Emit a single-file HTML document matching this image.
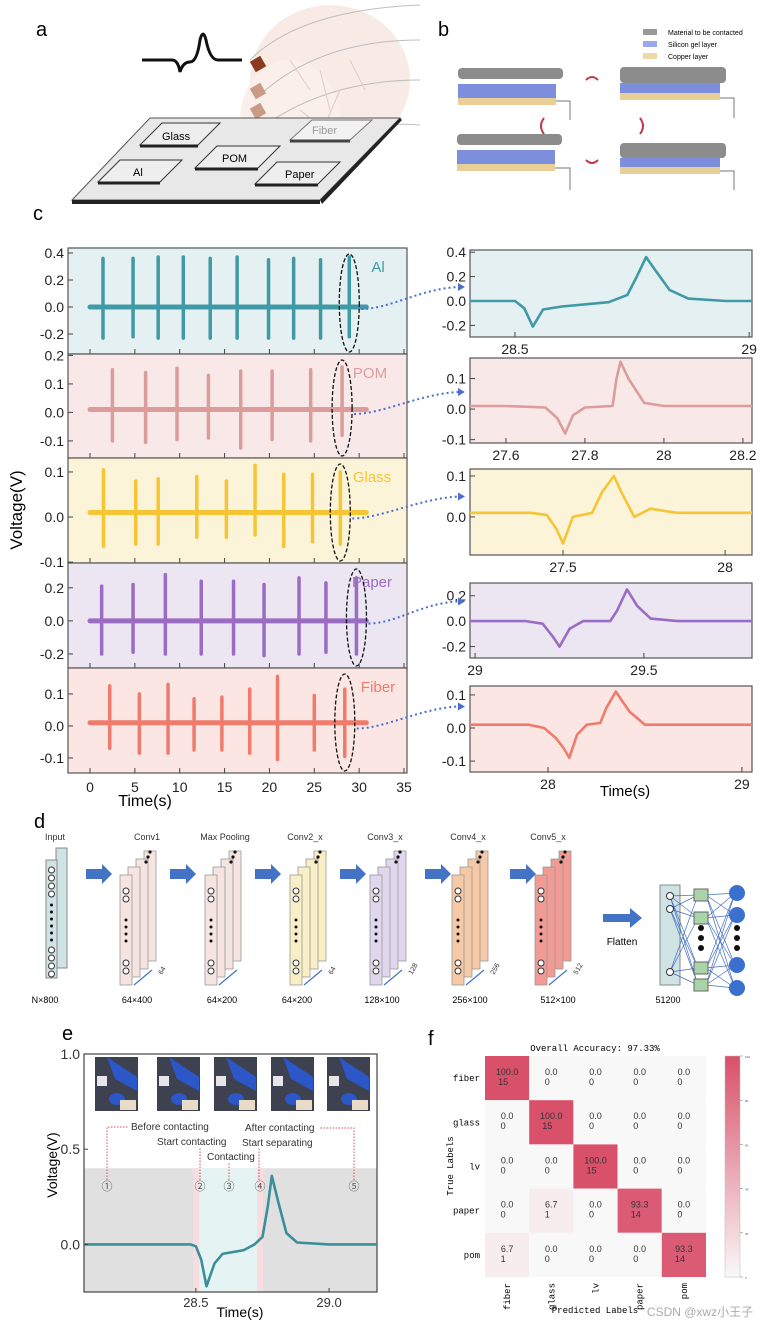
<!DOCTYPE html>
<html><head><meta charset="utf-8">
<style>
html,body{margin:0;padding:0;background:#fff;}
svg{display:block;font-family:"Liberation Sans","Noto Sans CJK SC",sans-serif;}
</style></head>
<body>
<svg id="fig" width="767" height="1325" viewBox="0 0 767 1325" xmlns="http://www.w3.org/2000/svg">
<!-- Panel a -->
<g>
<text x="36" y="36" font-size="20">a</text>
<g opacity="0.55">
<ellipse cx="330" cy="80" rx="80" ry="75" fill="#f4d9cf"/>
<ellipse cx="290" cy="120" rx="50" ry="60" fill="#f7e2da"/>
<path d="M250 60 Q300 10 420 5 M260 95 Q320 40 420 40 M265 125 Q330 80 420 80 M270 150 Q340 120 420 125" stroke="#888" fill="none" stroke-width="1"/>
<path d="M290 60 l20 30 M320 70 l10 40 M340 90 l-15 35 M300 110 l25 20 M350 60 l15 30" stroke="#c9a38f" stroke-width="1" fill="none"/>
</g>
<g>
<rect x="252" y="58" width="12" height="12" fill="#8a3a1f" transform="rotate(-30 258 64)"/>
<rect x="252" y="85" width="12" height="12" fill="#c99a84" transform="rotate(-30 258 91)"/>
<rect x="252" y="105" width="12" height="12" fill="#c99a84" transform="rotate(-30 258 111)"/>
<rect x="252" y="125" width="12" height="12" fill="#c99a84" transform="rotate(-30 258 131)"/>
</g>
<path d="M142 60 L172 60 Q178 60 180 72 Q183 62 190 62 Q197 62 200 40 Q203 28 206 40 Q210 60 218 60 L242 60" stroke="#111" stroke-width="3" fill="none"/>
<g>
<polygon points="72,200 320,200 400,118 150,118" fill="#e8e8e8" stroke="#555" stroke-width="1"/>
<polygon points="72,200 320,200 320,204 72,204" fill="#222"/>
<polygon points="320,200 400,118 402,120 322,204" fill="#222"/>
<polygon points="140,145 198,145 220,123 162,123" fill="#eee" stroke="#333"/><line x1="140" y1="146" x2="198" y2="146" stroke="#222" stroke-width="3"/>
<text x="162" y="140" font-size="11">Glass</text>
<polygon points="195,168 258,168 280,146 217,146" fill="#eee" stroke="#333"/><line x1="195" y1="169" x2="258" y2="169" stroke="#222" stroke-width="3"/>
<text x="222" y="162" font-size="11">POM</text>
<polygon points="98,182 160,182 182,160 120,160" fill="#eee" stroke="#333"/><line x1="98" y1="183" x2="160" y2="183" stroke="#222" stroke-width="3"/>
<text x="133" y="176" font-size="11">Al</text>
<polygon points="255,184 318,184 340,162 277,162" fill="#eee" stroke="#333"/><line x1="255" y1="185" x2="318" y2="185" stroke="#222" stroke-width="3"/>
<text x="285" y="178" font-size="11">Paper</text>
<polygon points="290,140 350,140 372,120 312,120" fill="#f2f2f2" stroke="#777"/><line x1="290" y1="141" x2="350" y2="141" stroke="#444" stroke-width="3"/>
<text x="312" y="134" font-size="11" fill="#999">Fiber</text>
</g>
</g>
<!-- Panel b -->
<g>
<text x="438" y="36" font-size="20">b</text>
<g>
<rect x="643" y="29" width="14" height="6" fill="#999"/><text x="668" y="35" font-size="7">Material to be contacted</text>
<rect x="643" y="41" width="14" height="6" fill="#9aa9ea"/><text x="668" y="47" font-size="7">Silicon gel layer</text>
<rect x="643" y="53" width="14" height="6" fill="#edd8a8"/><text x="668" y="59" font-size="7">Copper layer</text>
</g>
<g>
<rect x="458" y="68" width="105" height="11" rx="4" fill="#8c8c8c"/>
<rect x="458" y="84" width="98" height="14" fill="#7d8fdc"/><rect x="458" y="98" width="98" height="7" fill="#e8cf97"/>
</g>
<g>
<rect x="620" y="67" width="106" height="16" rx="4" fill="#8c8c8c"/>
<rect x="620" y="83" width="100" height="10" fill="#7d8fdc"/><rect x="620" y="93" width="100" height="7" fill="#e8cf97"/>
</g>
<g>
<rect x="457" y="134" width="105" height="11" rx="4" fill="#8c8c8c"/>
<rect x="457" y="150" width="98" height="14" fill="#7d8fdc"/><rect x="457" y="164" width="98" height="7" fill="#e8cf97"/>
</g>
<g>
<rect x="620" y="143" width="106" height="15" rx="4" fill="#8c8c8c"/>
<rect x="620" y="158" width="100" height="9" fill="#7d8fdc"/><rect x="620" y="167" width="100" height="7" fill="#e8cf97"/>
</g>
<g stroke="#777" stroke-width="1" fill="none">
<path d="M556 101 H570 V120 M720 98 H734 V118 M555 168 H570 V190 M720 171 H734 V190"/>
</g>
<g stroke="#c0394f" stroke-width="2" fill="none">
<path d="M586 80 q6 -6 12 0 M544 118 q-6 8 0 16 M640 118 q6 8 0 16 M586 160 q6 6 12 0"/>
</g>
</g>
<text x="33" y="220" font-size="20">c</text>
<g id="panelC"></g>
<!-- Panel d -->
<g id="panelD">
<text x="34" y="828" font-size="20">d</text>
</g>
<g id="panelE">
<text x="62" y="1040" font-size="20">e</text>
</g>
<g id="panelF">
<text x="428" y="1045" font-size="20">f</text>
</g>
</svg>
<script>
// ===== Panel c data =====
const cMaterials = ["Al","POM","Glass","Paper","Fiber"];
const alSpikeT = [1.45,4.8,7.6,10.4,13.4,16.4,19.9,22.7,25.7,28.9];
const alSpikeMax = [0.36,0.36,0.37,0.37,0.36,0.37,0.35,0.36,0.35,0.37];
const alSpikeMin = [-0.23,-0.22,-0.23,-0.23,-0.23,-0.23,-0.23,-0.23,-0.23,-0.22];
const pomSpikeT = [2.5,6.2,9.7,13.2,16.8,20.3,24.6,28.1];
const pomSpikeMax = [0.15,0.14,0.155,0.13,0.145,0.145,0.15,0.16];
const pomSpikeMin = [-0.1,-0.105,-0.095,-0.09,-0.125,-0.095,-0.1,-0.08];
const glassSpikeT = [1.5,5.1,7.6,11.9,15.2,18.4,21.6,24.8,27.9];
const glassSpikeMax = [0.105,0.08,0.085,0.09,0.08,0.115,0.095,0.095,0.1];
const glassSpikeMin = [-0.065,-0.06,-0.06,-0.045,-0.045,-0.04,-0.065,-0.055,-0.06];
const paperSpikeT = [1.3,4.8,8.4,12.4,16.0,19.4,23.3,26.3,29.7];
const paperSpikeMax = [0.21,0.22,0.28,0.24,0.24,0.22,0.26,0.23,0.26];
const paperSpikeMin = [-0.2,-0.19,-0.2,-0.2,-0.2,-0.21,-0.2,-0.19,-0.2];
const fiberSpikeT = [2.2,5.5,8.7,11.6,14.7,17.8,20.9,25.0,28.4];
const fiberSpikeMax = [0.125,0.1,0.13,0.085,0.09,0.115,0.155,0.095,0.115];
const fiberSpikeMin = [-0.07,-0.085,-0.085,-0.075,-0.075,-0.085,-0.105,-0.075,-0.095];
const cBaselines = [0.0,0.01,0.01,0.0,0.01];
const cXTicks = [0,5,10,15,20,25,30,35];
const alYTicks = [-0.2,0.0,0.2,0.4];
const pomYTicks = [-0.1,0.0,0.1,0.2];
const glassYTicks = [-0.1,0.0,0.1];
const paperYTicks = [-0.2,0.0,0.2];
const fiberYTicks = [-0.1,0.0,0.1];
// zoomed signals (time, voltage)
const alZoomT = [28.404,28.5,28.52,28.538,28.56,28.6,28.7,28.74,28.76,28.78,28.8,28.83,28.87,28.95,29.006];
const alZoomV = [0.0,0.0,-0.06,-0.21,-0.07,-0.045,-0.01,0.05,0.2,0.36,0.25,0.09,0.02,0.0,0.0];
const alZoomXTicks = [28.5,29];
const pomZoomT = [27.509,27.6,27.7,27.73,27.75,27.77,27.8,27.87,27.88,27.89,27.91,27.95,28.0,28.223];
const pomZoomV = [0.01,0.01,0.005,-0.03,-0.08,-0.02,0.005,0.01,0.1,0.155,0.1,0.02,0.01,0.01];
const pomZoomXTicks = [27.6,27.8,28,28.2];
const glassZoomT = [27.213,27.4,27.45,27.48,27.5,27.53,27.59,27.62,27.657,27.68,27.72,27.77,27.85,28.083];
const glassZoomV = [0.01,0.01,0.005,-0.03,-0.065,0.0,0.01,0.06,0.1,0.06,0.0,0.02,0.01,0.01];
const glassZoomXTicks = [27.5,28];
const paperZoomT = [28.985,29.15,29.2,29.23,29.25,29.28,29.32,29.4,29.42,29.45,29.48,29.52,29.6,29.82];
const paperZoomV = [0.0,0.0,-0.02,-0.12,-0.2,-0.06,0.0,0.0,0.08,0.25,0.12,0.02,0.0,0.0];
const paperZoomXTicks = [29,29.5];
const fiberZoomT = [27.598,27.9,27.98,28.04,28.08,28.11,28.15,28.2,28.27,28.3,28.35,28.42,28.5,28.6,29.052];
const fiberZoomV = [0.01,0.01,0.0,-0.03,-0.06,-0.09,-0.02,0.01,0.015,0.06,0.11,0.05,0.01,0.01,0.01];
const fiberZoomXTicks = [28,29];
const zoomYTicks = [[-0.2,0.0,0.2,0.4],[-0.1,0.0,0.1],[0.0,0.1],[-0.2,0.0,0.2],[-0.1,0.0,0.1]];

const NS="http://www.w3.org/2000/svg";
function mk(parent,tag,attrs,text){const e=document.createElementNS(NS,tag);for(const k in attrs)e.setAttribute(k,attrs[k]);if(text!==undefined)e.textContent=text;parent.appendChild(e);return e;}
function lin(d0,d1,r0,r1){return v=>r0+(v-d0)*(r1-r0)/(d1-d0);}
function fmt(v){return (Math.abs(v)<1e-9?"0.0":v.toFixed(1));}

const pc=document.getElementById('panelC');
const rowTops=[248,354,458,563,668], rowBots=[354,458,563,668,773];
const rowV=[[-0.348,0.437],[-0.16,0.205],[-0.102,0.131],[-0.285,0.35],[-0.147,0.181]];
const bgCols=["#e4f0f1","#f8e9e8","#fcf4d8","#ebe6f2","#fce6e3"];
const lnCols=["#3f9aa6","#dc9c9c","#f6c535","#9a6cc4","#ef7b6c"];
const spT=[alSpikeT,pomSpikeT,glassSpikeT,paperSpikeT,fiberSpikeT];
const spMax=[alSpikeMax,pomSpikeMax,glassSpikeMax,paperSpikeMax,fiberSpikeMax];
const spMin=[alSpikeMin,pomSpikeMin,glassSpikeMin,paperSpikeMin,fiberSpikeMin];
const yTks=[alYTicks,pomYTicks,glassYTicks,paperYTicks,fiberYTicks];
const xL=68,xR=407;const xs=lin(0,35,90,404);
const zT=[alZoomT,pomZoomT,glassZoomT,paperZoomT,fiberZoomT];
const zV=[alZoomV,pomZoomV,glassZoomV,paperZoomV,fiberZoomV];
const zXT=[alZoomXTicks,pomZoomXTicks,glassZoomXTicks,paperZoomXTicks,fiberZoomXTicks];
const zTops=[250,358,469,583,686], zBots=[337,443,555,658,772];
const zV0=[[-0.295,0.418],[-0.111,0.167],[-0.093,0.117],[-0.29,0.3],[-0.133,0.127]];
const zX0=[[28.404,29.006],[27.509,28.223],[27.213,28.083],[28.985,29.82],[27.598,29.052]];
const zL=470,zR=752;
const labelX=[378,370,372,372,378];

for(let r=0;r<5;r++){
  const g=mk(pc,'g',{});
  
  
  const ys=lin(rowV[r][0],rowV[r][1],rowBots[r],rowTops[r]);
  const bg=mk(g,'rect',{x:xL,y:rowTops[r],width:xR-xL,height:rowBots[r]-rowTops[r],fill:bgCols[r],stroke:'#555','stroke-width':1.2});
  
  
  yTks[r].forEach(v=>{const y=ys(v);if(y<rowTops[r]-1||y>rowBots[r]+1)return;
    mk(g,'line',{x1:xL,x2:xL+5,y1:y,y2:y,stroke:'#444'});
    const t=mk(g,'text',{x:xL-4,y:y+5,'font-size':14,'text-anchor':'end',fill:'#222'},fmt(v));
    
    });
  cXTicks.forEach(v=>{mk(g,'line',{x1:xs(v),x2:xs(v),y1:rowBots[r],y2:rowBots[r]-5,stroke:'#444'});});
  const base=mk(g,'line',{x1:xs(0),x2:xs(30.8),y1:ys(cBaselines[r]),y2:ys(cBaselines[r]),stroke:lnCols[r],'stroke-width':5,'stroke-linecap':'round'});
  
  
  spT[r].forEach((t,i)=>{const s=mk(g,'line',{x1:xs(t),x2:xs(t),y1:ys(spMin[r][i]),y2:ys(spMax[r][i]),stroke:lnCols[r],'stroke-width':3.5,'stroke-linecap':'round'});
    
    });
  const lbl=mk(g,'text',{x:labelX[r],y:rowTops[r]+24,'font-size':15,fill:lnCols[r],'text-anchor':'middle'},cMaterials[r]);
  
  
  const lt=spT[r][spT[r].length-1];
  const el=mk(g,'ellipse',{cx:xs(lt),cy:(rowTops[r]+rowBots[r])/2+2,rx:10,ry:(rowBots[r]-rowTops[r])/2-4,fill:'none',stroke:'#111','stroke-width':1.3,'stroke-dasharray':'4,2'});
  
  
  // zoom panel
  const zg=mk(pc,'g',{});
  
  
  const zx=lin(zX0[r][0],zX0[r][1],zL,zR), zy=lin(zV0[r][0],zV0[r][1],zBots[r],zTops[r]);
  const zb=mk(zg,'rect',{x:zL,y:zTops[r],width:zR-zL,height:zBots[r]-zTops[r],fill:bgCols[r],stroke:'#555','stroke-width':1.2});
  
  
  zeroLines:
  zoomYTicks[r].forEach(v=>{const y=zy(v);mk(zg,'line',{x1:zL,x2:zL+5,y1:y,y2:y,stroke:'#444'});
    const t=mk(zg,'text',{x:zL-4,y:y+5,'font-size':14,'text-anchor':'end',fill:'#222'},fmt(v));
    
    });
  zXT[r].forEach(v=>{const x=zx(v);mk(zg,'line',{x1:x,x2:x,y1:zBots[r],y2:zBots[r]-5,stroke:'#444'});
    const t=mk(zg,'text',{x:x,y:zBots[r]+17,'font-size':14,'text-anchor':'middle',fill:'#222'},String(v));
    
    });
  const pts=zT[r].map((t,i)=>zx(t).toFixed(1)+','+zy(zV[r][i]).toFixed(1)).join(' ');
  const pl=mk(zg,'polyline',{points:pts,fill:'none',stroke:lnCols[r],'stroke-width':2.6,'stroke-linejoin':'round'});
  
  
  const cy0=(rowTops[r]+rowBots[r])/2+8;
  const con=mk(pc,'path',{d:`M${xs(lt)+12} ${cy0} C ${xs(lt)+40} ${cy0} 420 ${cy0-20} 458 ${cy0-22}`,fill:'none',stroke:'#4a6fd0','stroke-width':2,'stroke-dasharray':'2,3'});
  
  
  mk(pc,'polygon',{points:`${458},${cy0-26} ${465},${cy0-22} ${458},${cy0-18}`,fill:'#4a6fd0'});
}
cXTicks.forEach(v=>{const t=mk(pc,'text',{x:xs(v),y:792,'font-size':14,'text-anchor':'middle',fill:'#222'},String(v));
  
  });
let tt=mk(pc,'text',{x:145,y:806,'font-size':16,'text-anchor':'middle'},'Time(s)');


tt=mk(pc,'text',{x:22,y:510,'font-size':17,'text-anchor':'middle',transform:'rotate(-90 22 510)'},'Voltage(V)');


tt=mk(pc,'text',{x:625,y:796,'font-size':15,'text-anchor':'middle'},'Time(s)');



// ===== Panel d =====
const pd=document.getElementById('panelD');
const dLayers=["Conv1","Max Pooling","Conv2_x","Conv3_x","Conv4_x","Conv5_x"];
const dDims=["64×400","64×200","64×200","128×100","256×100","512×100"];
const dChannels=["64","","64","128","256","512"];
const dCols=["#f6e4e1","#f6e4e1","#f9efc6","#e0d6ee","#f6c9a6","#f29b94"];
const dX=[120,205,290,370,452,535];
const dLabelX=[147,225,305,385,468,548];
const dDimX=[137,222,297,382,470,558];
// input
let t=mk(pd,'text',{x:55,y:840,'font-size':9,'text-anchor':'middle',fill:'#333'},'Input');


mk(pd,'rect',{x:56,y:848,width:11,height:120,fill:'#cfe3e4',stroke:'#888'});
let inp=mk(pd,'rect',{x:46,y:860,width:11,height:118,fill:'#cfe3e4',stroke:'#888'});


[870,878,886,894,950,958,966,974].forEach(y=>mk(pd,'circle',{cx:51.5,cy:y,r:3,fill:'#fff',stroke:'#333'}));
[905,912,919,926,933,940].forEach(y=>mk(pd,'circle',{cx:51.5,cy:y,r:1.5,fill:'#111'}));
t=mk(pd,'text',{x:45,y:1003,'font-size':9,'text-anchor':'middle'},'N×800');


const arrowX=[86,170,255,340,425,510];
arrowX.forEach(x=>{const a=mk(pd,'polygon',{points:`${x},869 ${x+16},869 ${x+16},864 ${x+26},874 ${x+16},884 ${x+16},879 ${x},879`,fill:'#4472c4'});
  
  });
dLayers.forEach((n,i)=>{
  const g=mk(pd,'g',{});
  
  
  const x=dX[i];
  for(let k=3;k>=0;k--){mk(g,'rect',{x:x+k*8,y:875-k*8,width:12,height:110,fill:dCols[i],stroke:'#999','stroke-width':0.8});}
  [891,899,963,971].forEach(y=>mk(g,'circle',{cx:x+6,cy:y,r:3,fill:'#fff',stroke:'#333'}));
  [920,927,934,941].forEach(y=>mk(g,'circle',{cx:x+6,cy:y,r:1.5,fill:'#111'}));
  [852,857,862].forEach((y,j)=>mk(g,'circle',{cx:x+30-j*2,cy:y+j*0,r:1.6,fill:'#111'}));
  mk(g,'line',{x1:x+14,x2:x+32,y1:985,y2:970,stroke:'#4472c4','stroke-width':1.2});
  const l=mk(g,'text',{x:dLabelX[i],y:840,'font-size':9,'text-anchor':'middle',fill:'#333'},n);
  
  
  const dd=mk(g,'text',{x:dDimX[i],y:1003,'font-size':9,'text-anchor':'middle'},dDims[i]);
  
  
  if(dChannels[i]) mk(g,'text',{x:x+42,y:975,'font-size':7,fill:'#333',transform:`rotate(-60 ${x+42} 975)`},dChannels[i]);
});
let fa=mk(pd,'polygon',{points:'603,914 630,914 630,908 642,918 630,928 630,922 603,922',fill:'#4472c4'});


t=mk(pd,'text',{x:622,y:945,'font-size':10,'text-anchor':'middle'},'Flatten');


const fc=mk(pd,'g',{});


mk(fc,'rect',{x:660,y:885,width:20,height:100,fill:'#cfe3e4',stroke:'#888'});
const fcIn=[896,909,972], fcMid=[895,918,968,985], fcOut=[893,915,965,988];
fcIn.forEach(a=>fcMid.forEach(b=>mk(fc,'line',{x1:670,y1:a,x2:698,y2:b,stroke:'#4472c4','stroke-width':0.7})));
fcMid.forEach(a=>fcOut.forEach(b=>mk(fc,'line',{x1:706,y1:a,x2:735,y2:b,stroke:'#4472c4','stroke-width':0.7})));
fcIn.forEach(y=>mk(fc,'circle',{cx:670,cy:y,r:3.5,fill:'#fff',stroke:'#333'}));
fcMid.forEach(y=>mk(fc,'rect',{x:694,y:y-6,width:14,height:12,fill:'#a9d3a9',stroke:'#666'}));
fcOut.forEach(y=>mk(fc,'circle',{cx:737,cy:y,r:8,fill:'#3b6fd0'}));
[928,938,948].forEach(y=>{mk(fc,'circle',{cx:701,cy:y,r:3,fill:'#111'});mk(fc,'circle',{cx:737,cy:y,r:3,fill:'#111'});});
t=mk(pd,'text',{x:668,y:1003,'font-size':9,'text-anchor':'middle'},'51200');



// ===== Panel e =====
const eTime=[28.08,28.3,28.48,28.5,28.52,28.54,28.57,28.6,28.68,28.72,28.75,28.77,28.785,28.81,28.84,28.88,29.0,29.18];
const eVolt=[0.0,0.0,0.0,-0.01,-0.08,-0.22,-0.1,-0.05,-0.03,0.0,0.04,0.2,0.36,0.22,0.06,0.01,0.0,0.0];
const eXTicks=[28.5,29.0];
const eYTicks=[0.0,0.5,1.0];
const eStages=["①","②","③","④","⑤"];
const eStageT=[28.14,28.53,28.6,28.68,29.19];
const pe=document.getElementById('panelE');
const ex=lin(28.08,29.18,84,377), ey=lin(-0.25,1.0,1292,1054);
let eb=mk(pe,'rect',{x:84,y:1054,width:293,height:238,fill:'#fff'});


let gr=mk(pe,'rect',{x:84,y:ey(0.4),width:293,height:1292-ey(0.4),fill:'#e0e0e0'});


let cr=mk(pe,'rect',{x:ex(28.5),y:ey(0.4),width:ex(28.75)-ex(28.5),height:1292-ey(0.4),fill:'#e6f3f3'});


mk(pe,'rect',{x:ex(28.49),y:ey(0.4),width:6,height:1292-ey(0.4),fill:'#f8dde0'});
mk(pe,'rect',{x:ex(28.73),y:ey(0.4),width:6,height:1292-ey(0.4),fill:'#f8dde0'});
mk(pe,'rect',{x:84,y:1054,width:293,height:238,fill:'none',stroke:'#444','stroke-width':1.2});
const photoX=[95,157,214,271,327];
photoX.forEach((x,i)=>{const p=mk(pe,'g',{});
  
  
  mk(p,'rect',{x:x,y:1057,width:43,height:54,fill:'#3d4150'});
  mk(p,'path',{d:`M${x+12} ${x?1057:1057} l30 20 l0 14 l-22 -12 z`,fill:'#2b57c8'});
  mk(p,'ellipse',{cx:x+22,cy:1099,rx:8,ry:6,fill:'#2b57c8'});
  mk(p,'rect',{x:x+25,y:1100,width:16,height:10,fill:'#e9dcc6'});
  mk(p,'rect',{x:x+2,y:1076,width:10,height:10,fill:'#e6e6ea'});
});
const pts=eTime.map((tv,i)=>ex(tv).toFixed(1)+','+ey(eVolt[i]).toFixed(1)).join(' ');
let ep=mk(pe,'polyline',{points:pts,fill:'none',stroke:'#3a8f9a','stroke-width':2.6,'stroke-linejoin':'round'});


eYTicks.forEach(v=>{const t=mk(pe,'text',{x:80,y:ey(v)+5,'font-size':14,'text-anchor':'end',fill:'#333'},v.toFixed(1));
  
  
  mk(pe,'line',{x1:84,x2:88,y1:ey(v),y2:ey(v),stroke:'#444'});});
eXTicks.forEach(v=>{const t=mk(pe,'text',{x:ex(v),y:1307,'font-size':13,'text-anchor':'middle',fill:'#333'},v.toFixed(1));
  
  
  mk(pe,'line',{x1:ex(v),x2:ex(v),y1:1292,y2:1288,stroke:'#444'});});
t=mk(pe,'text',{x:240,y:1317,'font-size':14,'text-anchor':'middle'},'Time(s)');


t=mk(pe,'text',{x:57,y:1165,'font-size':14,'text-anchor':'middle',transform:'rotate(-90 57 1165)'},'Voltage(V)');


const lead=mk(pe,'path',{d:'M107 1180 V1127 H128 M200 1180 V1148 M229 1180 V1162 M259 1180 V1148 M354 1180 V1128 H320',fill:'none',stroke:'#d9534f','stroke-width':1,'stroke-dasharray':'1.5,1.5'});


const annTxt=["Before contacting","Start contacting","Contacting","After contacting","Start separating"];
const annX=[131,157,207,245,242], annY=[1130,1145,1160,1131,1146];
annTxt.forEach((s,i)=>{const a=mk(pe,'text',{x:annX[i],y:annY[i],'font-size':10,fill:'#333'},s);
  
  });
const circX=[107,200,229,260,354];
eStages.forEach((s,i)=>{const c=mk(pe,'text',{x:circX[i],y:1190,'font-size':11,'text-anchor':'middle',fill:'#555'},s);
  
  });

// ===== Panel f =====
const fLabels=["fiber","glass","lv","paper","pom"];
const fPct=[[100.0,0,0,0,0],[0,100.0,0,0,0],[0,0,100.0,0,0],[0,6.7,0,93.3,0],[6.7,0,0,0,93.3]];
const fCount=[[15,0,0,0,0],[0,15,0,0,0],[0,0,15,0,0],[0,1,0,14,0],[1,0,0,0,14]];
const pf=document.getElementById('panelF');
const gx0=485,gy0=1056,cs=44.2;
function heat(v){const a=v/100;const r=Math.round(249+(217-249)*a),g=Math.round(248+(80-248)*a),b=Math.round(248+(106-248)*a);return `rgb(${r},${g},${b})`;}
t=mk(pf,'text',{x:595,y:1051,'font-size':9,'text-anchor':'middle','font-family':'Liberation Mono, monospace'},'Overall Accuracy: 97.33%');


fPct.forEach((row,i)=>row.forEach((v,j)=>{
  const c=mk(pf,'rect',{x:gx0+j*cs,y:gy0+i*cs,width:cs,height:cs,fill:heat(v)});
  
  
  const tx=mk(pf,'text',{x:gx0+j*cs+cs/2,y:gy0+i*cs+19,'font-size':9,'text-anchor':'middle',fill:'#333'},v.toFixed(1));
  
  
  const tc=mk(pf,'text',{x:gx0+j*cs+cs/2-4,y:gy0+i*cs+29,'font-size':9,'text-anchor':'middle',fill:'#333'},String(fCount[i][j]));
  
  
}));
fLabels.forEach((s,i)=>{const r=mk(pf,'text',{x:gx0-5,y:gy0+i*cs+cs/2+3,'font-size':9,'text-anchor':'end','font-family':'Liberation Mono, monospace'},s);
  
  
  const cx=gx0+i*cs+cs/2;
  const c=mk(pf,'text',{x:cx+3,y:1283,'font-size':9,'text-anchor':'end','font-family':'Liberation Mono, monospace',transform:`rotate(-90 ${cx+3} 1283)`},s);
  
  });
t=mk(pf,'text',{x:595,y:1313,'font-size':9,'text-anchor':'middle','font-family':'Liberation Mono, monospace'},'Predicted Labels');


t=mk(pf,'text',{x:453,y:1166,'font-size':9,'text-anchor':'middle','font-family':'Liberation Mono, monospace',transform:'rotate(-90 453 1166)'},'True Labels');


const defs=mk(pf,'defs',{});const lg=mk(defs,'linearGradient',{id:'cb',x1:0,y1:1,x2:0,y2:0});
mk(lg,'stop',{offset:'0','stop-color':heat(0)});mk(lg,'stop',{offset:'1','stop-color':heat(100)});
const cbar=mk(pf,'rect',{x:725,y:1056,width:15,height:221,fill:'url(#cb)',stroke:'#bbb','stroke-width':0.5});


const cbTicks=[0,20,40,60,80,100];
cbTicks.forEach(v=>{const y=1277-v*2.21;mk(pf,'line',{x1:740,x2:743,y1:y,y2:y,stroke:'#777','stroke-width':0.5});
  mk(pf,'text',{x:745,y:y+2,'font-size':3,fill:'#555'},String(v));});
t=mk(pf,'text',{x:700,y:1316,'font-size':12,'text-anchor':'middle',fill:'#aaa'},'CSDN @xwz小王子');


</script>
</body></html>
